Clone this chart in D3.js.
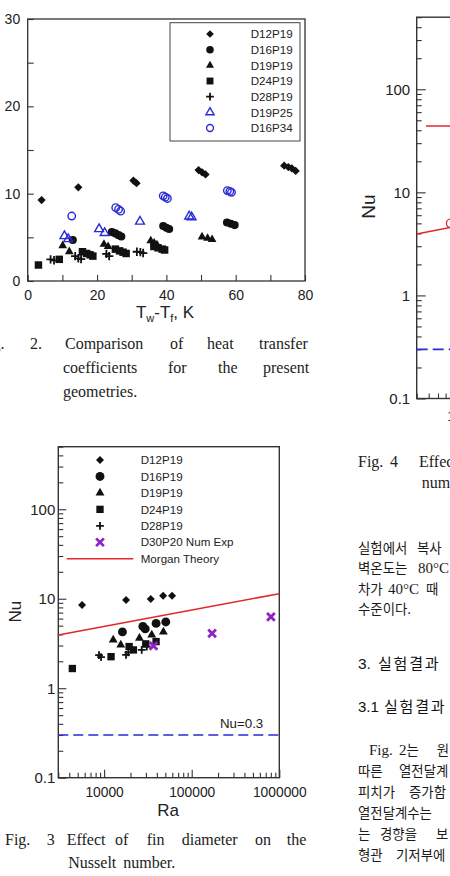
<!DOCTYPE html>
<html>
<head>
<meta charset="utf-8">
<script src="https://cdn.jsdelivr.net/npm/d3@7"></script>
<style>
    body { margin: 0; background: #fff; }
    svg { display: block; }
</style>
</head>
<body>
<svg id="page" width="450" height="876"></svg>
<script>
// ---- Fig. 2 data: heat transfer coefficient vs Tw-Tf ----
const fig2Ticks = [0, 20, 40, 60, 80];
const fig2YTicks = [0, 10, 20, 30];
const fig2Names = ['D12P19', 'D16P19', 'D19P19', 'D24P19', 'D28P19', 'D19P25', 'D16P34'];
const fig2_D12P19 = [[4.0, 9.27], [14.6, 10.73], [30.5, 11.5], [31.4, 11.2], [49.3, 12.7], [50.3, 12.45], [51.3, 12.2], [74.0, 13.2], [75.2, 13.05], [76.2, 12.9], [77.3, 12.6]];
const fig2_D16P19 = [[13.0, 4.7], [24.3, 5.6], [25.3, 5.45], [26.2, 5.25], [27.0, 5.1], [39.1, 6.3], [40.0, 6.1], [40.8, 5.95], [57.5, 6.7], [58.6, 6.55], [59.7, 6.4]];
const fig2_D19P19 = [[10.1, 4.05], [12.0, 3.36], [22.0, 4.2], [23.2, 3.95], [35.5, 4.6], [36.5, 4.35], [37.3, 4.15], [50.3, 5.05], [51.9, 4.9], [53.2, 4.75]];
const fig2_D24P19 = [[3.1, 1.83], [9.1, 2.48], [15.8, 3.35], [17.0, 3.15], [18.0, 3.0], [18.8, 2.85], [25.3, 3.65], [26.5, 3.45], [27.5, 3.3], [28.4, 3.15], [36.4, 3.95], [37.6, 3.8], [38.8, 3.65], [39.5, 3.55]];
const fig2_D28P19 = [[6.6, 2.48], [7.6, 2.37], [13.7, 2.85], [14.6, 2.6], [15.4, 2.5], [22.7, 3.1], [23.5, 2.85], [31.5, 3.35], [32.5, 3.3], [33.3, 3.2]];
const fig2_D19P25 = [[10.6, 5.15], [11.7, 4.8], [20.6, 5.95], [22.2, 5.5], [32.4, 6.8], [46.6, 7.4], [47.3, 7.3]];
const fig2_D16P34 = [[12.7, 7.44], [25.4, 8.4], [26.2, 8.2], [26.8, 8.0], [39.1, 9.75], [39.7, 9.6], [40.3, 9.45], [57.6, 10.35], [58.3, 10.25], [58.8, 10.15]];

// ---- Fig. 3 data: Nu vs Ra ----
const fig3Names = ['D12P19', 'D16P19', 'D19P19', 'D24P19', 'D28P19', 'D30P20 Num Exp', 'Morgan Theory'];
const fig3_D12P19 = [[5600, 8.5], [17800, 9.7], [34100, 9.95], [47200, 10.8], [59700, 10.8]];
const fig3_D16P19 = [[16200, 4.26], [27700, 4.9], [29500, 4.6], [39200, 5.3], [50600, 5.5]];
const fig3_D19P19 = [[12700, 3.47], [15500, 3.05], [25300, 3.62], [35000, 3.94], [47500, 4.26]];
const fig3_D24P19 = [[4340, 1.66], [12000, 2.25], [19300, 2.92], [21600, 2.68], [29900, 3.13], [39200, 3.32]];
const fig3_D28P19 = [[8750, 2.34], [9230, 2.22], [17800, 2.36], [18900, 2.52], [26900, 2.68], [30700, 2.92]];
const fig3_D30P20 = [[36600, 2.97], [171000, 4.11], [802000, 6.26]];
const morganRa = [3000, 1000000];
const morganNu = [3.94, 11.4];
const nuLimit = 0.3;

// ---- Fig. 4 (cropped at the page edge) ----
const fig4_numPoints = [[6800, 5.0]];

const BLUE = '#2a2ad8';
const PURPLE = '#8f22c6';
const RED = '#e4262c';
const INK = '#111';
const SANS = '"Liberation Sans", Arial, sans-serif';
const SERIF = '"Liberation Serif", "Times New Roman", serif';
const HANGUL = '"Noto Sans CJK KR", sans-serif';
const KR_SANS = '"Liberation Sans", "Noto Sans CJK KR", sans-serif';

const svg = d3.select('#page');
svg.append('rect').attr('width', 450).attr('height', 876).attr('fill', '#fff');

// marker paths
function markerPath(type, area) {
    if (type === 'plus') {
        const r = Math.sqrt(area) / 2;
        return `M${-r},0H${r}M0,${-r}V${r}`;
    }
    if (type === 'x') {
        const r = Math.sqrt(area) / 2;
        return `M${-r},${-r}L${r},${r}M${-r},${r}L${r},${-r}`;
    }
    const t = { circle: d3.symbolCircle, triangle: d3.symbolTriangle, square: d3.symbolSquare, diamond: d3.symbolSquare }[type];
    return d3.symbol(t, area)();
}

function plotMarkers(g, data, x, y, style) {
    g.append('g')
        .selectAll('path')
        .data(data)
        .join('path')
        .attr('d', markerPath(style.type, style.size))
        .attr('transform', d => `translate(${x(d[0])},${y(d[1])})` + (style.type === 'diamond' ? ' rotate(45)' : ''))
        .attr('fill', style.fill || 'none')
        .attr('stroke', style.stroke || 'none')
        .attr('stroke-width', style.strokeWidth || 0);
}

function words(g, list, y, font, size) {
    list.forEach(([x, w, anchor]) => {
        g.append('text')
            .attr('x', x).attr('y', y)
            .attr('text-anchor', anchor || 'start')
            .style('font-family', font)
            .style('font-size', size + 'px')
            .style('fill', '#222')
            .text(w);
    });
}

// Korean body words: Latin runs in serif, Hangul runs in the CJK face
function krWords(g, list, y) {
    list.forEach(([x, w]) => {
        const t = g.append('text').attr('x', x).attr('y', y)
            .style('font-family', SERIF).style('font-size', '15px').style('fill', '#1a1a1a');
        w.split(/([\uAC00-\uD7A3]+)/).filter(s => s.length).forEach(part => {
            const isKr = /[\uAC00-\uD7A3]/.test(part);
            t.append('tspan')
                .style('font-family', isKr ? HANGUL : SERIF)
                .style('font-size', isKr ? '13.4px' : '15px')
                .text(part);
        });
    });
}

function styleAxis(g, size) {
    g.select('.domain').remove();
    g.attr('color', '#333');
    g.selectAll('line').attr('stroke-width', 1.1);
    g.selectAll('text').style('font-family', SANS).style('font-size', size + 'px').style('fill', '#222');
}

// ================= Fig. 2 =================
{
    const x = d3.scaleLinear().domain([0, 80]).range([27.7, 305]);
    const y = d3.scaleLinear().domain([0, 30]).range([281, 19]);
    const g = svg.append('g');

    g.append('g').attr('transform', `translate(0,${y(0)})`)
        .call(d3.axisBottom(x).tickValues(fig2Ticks).tickSize(-6).tickPadding(9))
        .call(a => styleAxis(a, 14));
    g.append('g').attr('transform', `translate(0,${y(0)})`)
        .call(d3.axisBottom(x).tickValues([10, 30, 50, 70]).tickSize(-6).tickFormat(''))
        .call(a => styleAxis(a, 14));
    g.append('g').attr('transform', `translate(${x(0)},0)`)
        .call(d3.axisLeft(y).tickValues(fig2YTicks).tickSize(-6).tickPadding(7.5))
        .call(a => styleAxis(a, 14));
    g.append('g').attr('transform', `translate(${x(0)},0)`)
        .call(d3.axisLeft(y).tickValues([5, 15, 25]).tickSize(-6).tickFormat(''))
        .call(a => styleAxis(a, 14));

    g.append('rect')
        .attr('x', x(0)).attr('y', y(30))
        .attr('width', x(80) - x(0)).attr('height', y(0) - y(30))
        .attr('fill', 'none').attr('stroke', '#333').attr('stroke-width', 1.3);

    const styles = [
        { type: 'diamond', size: 34, fill: INK },
        { type: 'circle', size: 52, fill: INK },
        { type: 'triangle', size: 33, fill: INK },
        { type: 'square', size: 56, fill: INK },
        { type: 'plus', size: 70, stroke: INK, strokeWidth: 1.8 },
        { type: 'triangle', size: 34, stroke: BLUE, strokeWidth: 1.4 },
        { type: 'circle', size: 44, stroke: BLUE, strokeWidth: 1.4 }
    ];
    const series = [fig2_D12P19, fig2_D16P19, fig2_D19P19, fig2_D24P19, fig2_D28P19, fig2_D19P25, fig2_D16P34];
    series.forEach((s, i) => plotMarkers(g, s, x, y, styles[i]));

    // legend
    const lg = g.append('g');
    lg.append('rect').attr('x', 170).attr('y', 22.7).attr('width', 130).attr('height', 118.3)
        .attr('fill', '#fff').attr('stroke', '#444').attr('stroke-width', 1);
    fig2Names.forEach((name, i) => {
        const cy = 34 + i * 15.67;
        const st = styles[i];
        lg.append('path').attr('d', markerPath(st.type, st.size * 0.85))
            .attr('transform', `translate(210,${cy})` + (st.type === 'diamond' ? ' rotate(45)' : ''))
            .attr('fill', st.fill || 'none').attr('stroke', st.stroke || 'none').attr('stroke-width', st.strokeWidth || 0);
        lg.append('text').attr('x', 250.7).attr('y', cy + 4.2)
            .style('font-family', SANS).style('font-size', '11.6px').style('fill', '#222').text(name);
    });

    const t = g.append('text').attr('x', 165).attr('y', 318).attr('text-anchor', 'middle')
        .style('font-family', SANS).style('font-size', '17px').style('fill', '#222');
    t.append('tspan').text('T');
    t.append('tspan').attr('dy', 4).style('font-size', '11px').text('w');
    t.append('tspan').attr('dy', -4).text('-T');
    t.append('tspan').attr('dy', 4).style('font-size', '11px').text('f');
    t.append('tspan').attr('dy', -4).text(', K');

    words(g, [[4.5, 'Fig.', 'end'], [30, '2.'], [65, 'Comparison'], [170, 'of'], [207, 'heat'], [259, 'transfer']], 349, SERIF, 16);
    words(g, [[63, 'coefficients'], [168, 'for'], [218, 'the'], [263, 'present']], 373, SERIF, 16);
    words(g, [[63, 'geometries.']], 397, SERIF, 16);
}

// ================= Fig. 3 =================
{
    const x = d3.scaleLog().domain([3000, 1000000]).range([58.3, 279.3]);
    const y = d3.scaleLog().domain([0.1, 500]).range([777.7, 446.7]);
    const g = svg.append('g');

    const xt = x.ticks();
    const yt = y.ticks();
    const isMajor = v => Math.abs(Math.log10(v) - Math.round(Math.log10(v))) < 1e-6;

    g.append('g').attr('transform', `translate(0,${y(0.1)})`)
        .call(d3.axisBottom(x).tickValues(xt.filter(isMajor)).tickSize(-8).tickPadding(10).tickFormat(d3.format('d')))
        .call(a => styleAxis(a, 13.8));
    g.append('g').attr('transform', `translate(0,${y(0.1)})`)
        .call(d3.axisBottom(x).tickValues(xt.filter(v => !isMajor(v))).tickSize(-5).tickFormat(''))
        .call(a => styleAxis(a, 13.8));
    g.append('g').attr('transform', `translate(${x(3000)},0)`)
        .call(d3.axisLeft(y).tickValues(yt.filter(isMajor)).tickSize(-8).tickPadding(3).tickFormat(d => d < 1 ? '0.1' : d3.format('d')(d)))
        .call(a => styleAxis(a, 15));
    g.append('g').attr('transform', `translate(${x(3000)},0)`)
        .call(d3.axisLeft(y).tickValues(yt.filter(v => !isMajor(v))).tickSize(-5).tickFormat(''))
        .call(a => styleAxis(a, 15));

    g.append('rect')
        .attr('x', x(3000)).attr('y', y(500))
        .attr('width', x(1e6) - x(3000)).attr('height', y(0.1) - y(500))
        .attr('fill', 'none').attr('stroke', '#333').attr('stroke-width', 1.4);

    // Nu = 0.3 reference
    g.append('line')
        .attr('x1', x(3000)).attr('x2', x(1e6)).attr('y1', y(nuLimit)).attr('y2', y(nuLimit))
        .attr('stroke', BLUE).attr('stroke-width', 1.6).attr('stroke-dasharray', '10,5');
    g.append('text').attr('x', 220).attr('y', 728)
        .style('font-family', SANS).style('font-size', '13.3px').style('fill', '#222').text('Nu=0.3');

    // Morgan theory
    const line = d3.line().x(d => x(d[0])).y(d => y(d[1]));
    g.append('path').datum(morganRa.map((r, i) => [r, morganNu[i]]))
        .attr('d', line).attr('fill', 'none').attr('stroke', RED).attr('stroke-width', 1.5);

    const styles = [
        { type: 'diamond', size: 32, fill: INK },
        { type: 'circle', size: 62, fill: INK },
        { type: 'triangle', size: 34, fill: INK },
        { type: 'square', size: 54, fill: INK },
        { type: 'plus', size: 60, stroke: INK, strokeWidth: 1.8 },
        { type: 'x', size: 60, stroke: PURPLE, strokeWidth: 2.8 }
    ];
    const series = [fig3_D12P19, fig3_D16P19, fig3_D19P19, fig3_D24P19, fig3_D28P19, fig3_D30P20];
    series.forEach((s, i) => plotMarkers(g, s, x, y, styles[i]));

    // legend
    fig3Names.forEach((name, i) => {
        const cy = 460 + i * 16.45;
        if (i < styles.length) {
            const st = styles[i];
            g.append('path').attr('d', markerPath(st.type, st.size))
                .attr('transform', `translate(100,${cy})` + (st.type === 'diamond' ? ' rotate(45)' : ''))
                .attr('fill', st.fill || 'none').attr('stroke', st.stroke || 'none').attr('stroke-width', st.strokeWidth || 0);
        } else {
            g.append('line').attr('x1', 66.7).attr('x2', 133.3).attr('y1', cy).attr('y2', cy)
                .attr('stroke', RED).attr('stroke-width', 1.5);
        }
        g.append('text').attr('x', 140.7).attr('y', cy + 4.2)
            .style('font-family', SANS).style('font-size', '11.6px').style('fill', '#222').text(name);
    });

    g.append('text').attr('transform', 'translate(15,611.7) rotate(-90)').attr('dy', '0.35em')
        .attr('text-anchor', 'middle')
        .style('font-family', SANS).style('font-size', '17px').style('fill', '#222').text('Nu');
    g.append('text').attr('x', 168).attr('y', 816).attr('text-anchor', 'middle')
        .style('font-family', SANS).style('font-size', '17px').style('fill', '#222').text('Ra');

    words(g, [[5, 'Fig.'], [46.7, '3'], [66.7, 'Effect'], [115, 'of'], [146.7, 'fin'], [181.7, 'diameter'], [255, 'on'], [286.7, 'the']], 845, SERIF, 16);
    words(g, [[68.3, 'Nusselt'], [123.3, 'number.']], 868, SERIF, 16);
}

// ================= Fig. 4 (right column, cropped) =================
{
    const x = d3.scaleLog().domain([3000, 1000000]).range([416.7, 416.7 + 2.523 * 96]);
    const y = d3.scaleLog().domain([0.1, 500]).range([398.5, 17.2]);
    const g = svg.append('g');

    const xt = x.ticks();
    const yt = y.ticks();
    const isMajor = v => Math.abs(Math.log10(v) - Math.round(Math.log10(v))) < 1e-6;

    g.append('g').attr('transform', `translate(0,${y(0.1)})`)
        .call(d3.axisBottom(x).tickValues(xt.filter(isMajor)).tickSize(-9).tickPadding(12).tickFormat(d3.format('d')))
        .call(a => styleAxis(a, 14.5));
    g.append('g').attr('transform', `translate(0,${y(0.1)})`)
        .call(d3.axisBottom(x).tickValues(xt.filter(v => !isMajor(v))).tickSize(-5).tickFormat(''))
        .call(a => styleAxis(a, 14.5));
    g.append('g').attr('transform', `translate(${x(3000)},0)`)
        .call(d3.axisLeft(y).tickValues(yt.filter(isMajor)).tickSize(-9).tickPadding(6.5).tickFormat(d => d < 1 ? '0.1' : d3.format('d')(d)))
        .call(a => styleAxis(a, 15));
    g.append('g').attr('transform', `translate(${x(3000)},0)`)
        .call(d3.axisLeft(y).tickValues(yt.filter(v => !isMajor(v))).tickSize(-5).tickFormat(''))
        .call(a => styleAxis(a, 15));

    g.append('rect')
        .attr('x', x(3000)).attr('y', y(500))
        .attr('width', x(1e6) - x(3000)).attr('height', y(0.1) - y(500))
        .attr('fill', 'none').attr('stroke', '#333').attr('stroke-width', 1.4);

    g.append('line')
        .attr('x1', x(3000)).attr('x2', x(1e6)).attr('y1', y(nuLimit)).attr('y2', y(nuLimit))
        .attr('stroke', BLUE).attr('stroke-width', 1.7).attr('stroke-dasharray', '11,5');

    const line = d3.line().x(d => x(d[0])).y(d => y(d[1]));
    g.append('path').datum(morganRa.map((r, i) => [r, morganNu[i]]))
        .attr('d', line).attr('fill', 'none').attr('stroke', RED).attr('stroke-width', 1.6);

    plotMarkers(g, fig4_numPoints, x, y, { type: 'circle', size: 60, stroke: RED, strokeWidth: 1.3 });

    // legend line sample (Morgan Theory)
    g.append('line').attr('x1', 426).attr('x2', 470).attr('y1', 126).attr('y2', 126)
        .attr('stroke', RED).attr('stroke-width', 1.6);

    g.append('text').attr('transform', 'translate(368,206.7) rotate(-90)').attr('dy', '0.35em')
        .attr('text-anchor', 'middle')
        .style('font-family', SANS).style('font-size', '19px').style('fill', '#222').text('Nu');

    words(g, [[358, 'Fig.'], [390, '4'], [419, 'Effect']], 467, SERIF, 16);
    words(g, [[421.7, 'numerical']], 488, SERIF, 16);

    // Korean body text
    krWords(g, [[358, '실험에서'], [417, '복사']], 552.5);
    krWords(g, [[358, '벽온도는'], [418, '80°C']], 572.5);
    krWords(g, [[358, '차가'], [388, '40°C'], [426, '때']], 593.5);
    krWords(g, [[358, '수준이다.']], 613.5);

    const h1 = g.append('text').attr('x', 358).attr('y', 668.5)
        .style('font-family', KR_SANS).style('font-size', '15.5px').style('fill', '#111');
    h1.append('tspan').text('3.');
    h1.append('tspan').attr('x', 378).style('font-size', '15px').style('letter-spacing', '1.8px').text('실험결과');
    const h2 = g.append('text').attr('x', 358).attr('y', 711.5)
        .style('font-family', KR_SANS).style('font-size', '15px').style('fill', '#111');
    h2.append('tspan').text('3.1');
    h2.append('tspan').attr('x', 384).style('font-size', '15px').style('letter-spacing', '1.8px').text('실험결과');

    krWords(g, [[369, 'Fig.'], [399, '2는'], [436.7, '원']], 755);
    krWords(g, [[358, '따른'], [399, '열전달계']], 776);
    krWords(g, [[358, '피치가'], [409, '증가함']], 797);
    krWords(g, [[358, '열전달계수는']], 818);
    krWords(g, [[358, '는'], [380, '경향을'], [436, '보']], 839);
    krWords(g, [[358, '형관'], [396, '기저부에']], 860);
}
</script>
</body>
</html>
